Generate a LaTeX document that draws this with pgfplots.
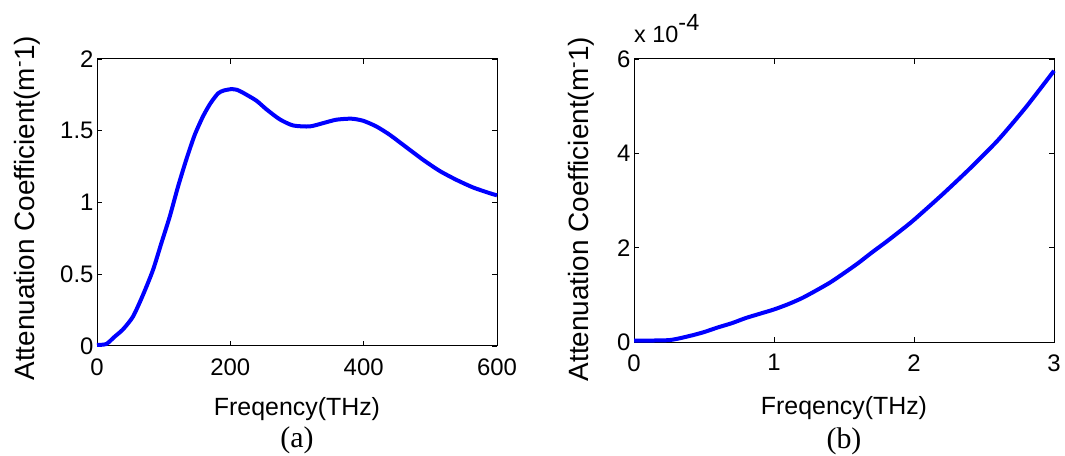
\documentclass[border=0pt]{standalone}
\usepackage{pgfplots}
\pgfplotsset{compat=1.18}
\usepackage{fontspec}
\setmainfont{Liberation Sans}
\newfontfamily\seriffont{Liberation Serif}

\pgfplotstableread{
x y
0 0.007
14 0.014
26.5 0.065
39 0.116
54 0.205
69 0.356
84 0.53
96.5 0.716
109 0.90
121.5 1.11
134 1.30
146.5 1.47
159 1.60
170 1.69
181.5 1.76
190 1.78
201.5 1.79
210 1.785
219 1.765
239 1.71
254 1.65
274 1.58
294 1.537
319 1.53
339 1.553
359 1.577
381.5 1.584
399 1.57
419 1.53
439 1.472
464 1.385
489 1.298
514 1.22
539 1.158
564 1.105
589 1.065
600 1.05
}\dataA

\pgfplotstableread{
x y
0 0.03
0.25 0.04
0.4 0.13
0.5 0.21
0.6 0.31
0.7 0.40
0.8 0.51
0.9 0.60
1.0 0.69
1.1 0.80
1.2 0.93
1.3 1.09
1.4 1.26
1.5 1.46
1.6 1.67
1.7 1.90
1.8 2.12
1.9 2.35
2.0 2.59
2.2 3.12
2.4 3.68
2.6 4.28
2.8 4.98
3.0 5.75
}\dataB

\pgfplotsset{
  mystyle/.style={
    scale only axis,
    axis line style={line width=1bp, black},
    tick style={line width=0.8bp, black},
    major tick length=5bp,
    tick align=inside,
    clip=false,
    tick label style={font=\fontsize{24}{28}\selectfont},
    xlabel style={font=\fontsize{25}{29}\selectfont},
    ylabel style={font=\fontsize{28}{32}\selectfont},
    /pgf/number format/assume math mode=true,
    xticklabel style={yshift=-9bp},
  }
}

\begin{document}
\begin{tikzpicture}
\path[use as bounding box] (0,0) rectangle (1065bp,456bp);

\begin{axis}[mystyle,
  at={(97bp,110bp)}, anchor=south west,
  width=400bp, height=287bp,
  xmin=0, xmax=600, ymin=0, ymax=2,
  xtick={0,200,400,600}, ytick={0,0.5,1,1.5,2},
  yticklabels={0,0.5,1,1.5,2},
  xlabel={Freqency(THz)},
  ylabel={Attenuation Coefficient(m\textsuperscript{-}1)},
  xlabel style={at={(axis description cs:0.5,-0.22)}, anchor=center},
  ylabel style={at={(axis description cs:-0.175,0.48)}, anchor=center},
]
\addplot[blue, line width=4bp, smooth, tension=0.4] table[x=x,y=y] {\dataA};
\node[font=\seriffont\fontsize{30}{34}\selectfont] at (axis description cs:0.5,-0.33) {(a)};
\end{axis}

\begin{axis}[mystyle,
  at={(634bp,114bp)}, anchor=south west,
  width=420bp, height=283bp,
  xmin=0, xmax=3, ymin=0, ymax=6,
  xtick={0,1,2,3}, ytick={0,2,4,6},
  xlabel={Freqency(THz)},
  ylabel={Attenuation Coefficient(m\textsuperscript{-}1)},
  xlabel style={at={(axis description cs:0.5,-0.235)}, anchor=center},
  ylabel style={at={(axis description cs:-0.126,0.47)}, anchor=center},
]
\addplot[blue, line width=4bp, smooth, tension=0.4] table[x=x,y=y] {\dataB};
\node[font=\fontsize{23.5}{27}\selectfont, anchor=base west, inner sep=0pt] at (axis description cs:0.0,1.057) {x 10\raisebox{12bp}{-4}};
\node[font=\seriffont\fontsize{30}{34}\selectfont] at (axis description cs:0.5,-0.35) {(b)};
\end{axis}
\end{tikzpicture}
\end{document}
